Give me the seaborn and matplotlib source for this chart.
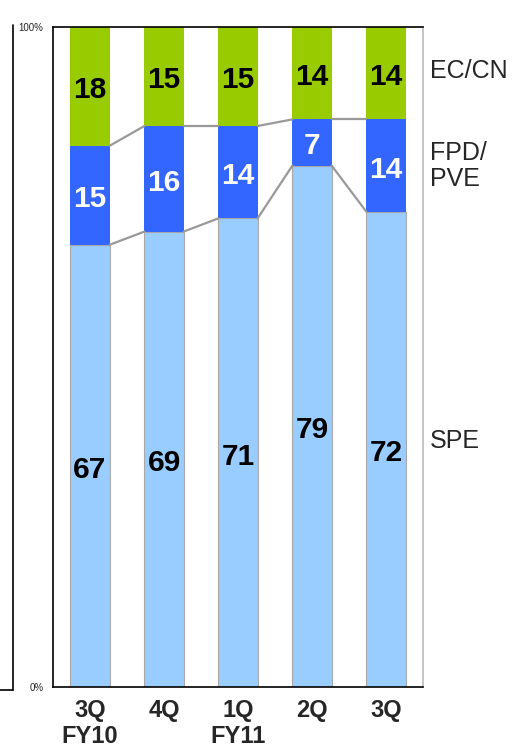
import numpy as np
import pandas as pd
import matplotlib.pyplot as plt
import matplotlib.transforms as mtransforms
from matplotlib.lines import Line2D
import seaborn as sns

quarters = ["3Q\nFY10", "4Q", "1Q\nFY11", "2Q", "3Q"]
spe = [67, 69, 71, 79, 72]
fpd = [15, 16, 14, 7, 14]
ec = [18, 15, 15, 14, 14]
series_names = ["SPE", "FPD/\nPVE", "EC/CN"]

sns.set_style("white")
plt.rcParams["font.family"] = ["Liberation Sans", "DejaVu Sans"]

df = pd.DataFrame({"quarter": quarters, "SPE": spe, "FPD": fpd, "EC": ec})
df["b_fpd"] = df["SPE"]
df["b_ec"] = df["SPE"] + df["FPD"]

fig = plt.figure(figsize=(5.13, 7.48), dpi=100)
ax = fig.add_axes([0.1033, 0.0816, 0.7213, 0.8823])

w = 0.53
sns.barplot(data=df, x="quarter", y="SPE", color="#99CCFF", width=w,
            edgecolor="#A8A8A8", linewidth=0.8, saturation=1, ax=ax)
sns.barplot(data=df, x="quarter", y="FPD", bottom=df["b_fpd"].to_numpy(),
            color="#3366FF", width=w, linewidth=0, saturation=1, ax=ax)
sns.barplot(data=df, x="quarter", y="EC", bottom=df["b_ec"].to_numpy(),
            color="#99CC00", width=w, linewidth=0, saturation=1, ax=ax)

# connector lines between bars
xs = np.arange(len(quarters))
for lvl in [df["b_fpd"].to_numpy(), df["b_ec"].to_numpy()]:
    for i in range(len(xs) - 1):
        ax.plot([xs[i] + w / 2, xs[i + 1] - w / 2], [lvl[i], lvl[i + 1]],
                color="#999999", lw=1.6, zorder=1)

# value labels
off = 0.6
for i in range(len(xs)):
    ax.text(xs[i], spe[i] / 2 - off, str(spe[i]), ha="center", va="center",
            fontsize=21.5, fontweight="bold", color="black")
    ax.text(xs[i], spe[i] + fpd[i] / 2 - off, str(fpd[i]), ha="center",
            va="center", fontsize=21.5, fontweight="bold", color="white")
    ax.text(xs[i], spe[i] + fpd[i] + ec[i] / 2 - off, str(ec[i]), ha="center",
            va="center", fontsize=21.5, fontweight="bold", color="black")

# series names on the right
trans = mtransforms.blended_transform_factory(ax.transAxes, ax.transData)
ax.text(1.019, 93.3, series_names[2], transform=trans, fontsize=18,
        va="center", ha="left")
ax.text(1.019, 78.9, series_names[1], transform=trans, fontsize=18,
        va="center", ha="left", linespacing=1.08)
ax.text(1.019, 37.2, series_names[0], transform=trans, fontsize=18,
        va="center", ha="left")

ax.set_xlim(-0.5, len(quarters) - 0.5)
ax.set_ylim(0, 100)
ax.set_yticks([0, 100])
ax.set_yticklabels(["0%", "100%"], fontsize=7)
ax.set_xlabel("")
ax.set_ylabel("")
ax.tick_params(axis="y", length=0, pad=7)
ax.tick_params(axis="x", length=0, pad=9)
for lab in ax.get_xticklabels():
    lab.set_fontsize(17)
    lab.set_fontweight("bold")
    lab.set_linespacing(1.12)
    lab.set_verticalalignment("top")

for s in ["left", "bottom", "top"]:
    ax.spines[s].set_color("black")
    ax.spines[s].set_linewidth(1.2)
ax.spines["right"].set_color("#BBBBBB")
ax.spines["right"].set_linewidth(1.2)

# partial frame of a neighbouring box on the far left
fig.add_artist(Line2D([13 / 513, 13 / 513], [1 - 25 / 748, 1 - 690 / 748],
                      color="black", lw=1.2))
fig.add_artist(Line2D([0, 13 / 513], [1 - 690 / 748, 1 - 690 / 748],
                      color="black", lw=1.2))

fig.savefig("out.png", dpi=100)
